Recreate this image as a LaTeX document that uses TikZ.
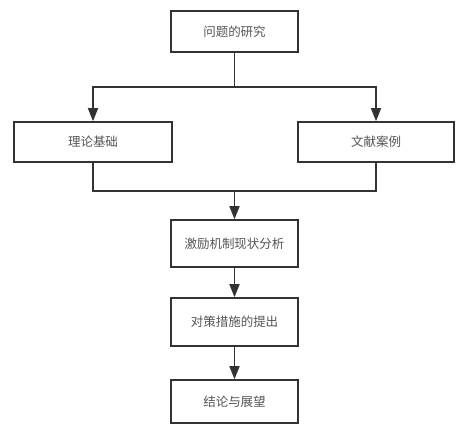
\documentclass[tikz,border=0pt]{standalone}
\usepackage{fontspec}
\newfontfamily\cjk{Noto Sans CJK SC}
\usetikzlibrary{arrows.meta}
\definecolor{linec}{HTML}{333333}
\definecolor{textc}{HTML}{555555}
\begin{document}
\begin{tikzpicture}[x=1pt,y=-1pt,
  box/.style={draw=linec,line width=1.6pt,fill=white,minimum height=#1,inner sep=0pt,outer sep=0pt,
    font=\cjk\fontsize{12.5}{14}\selectfont,text=textc,anchor=north west},
  conn/.style={draw=linec,line width=1.6pt},
  arr/.style={conn,-{Triangle[length=13pt,width=10pt]},shorten >=0.8pt}]
\useasboundingbox (0,0) rectangle (467,431);
\fill[white] (0,0) rectangle (467,431);
\node[box=41pt,minimum width=127pt] (a) at (171,11) {问题的研究};
\node[box=40pt,minimum width=158pt] (b) at (14,122) {理论基础};
\node[box=40pt,minimum width=156pt] (c) at (298,122) {文献案例};
\node[box=47pt,minimum width=127pt] (d) at (171,220) {激励机制现状分析};
\node[box=48pt,minimum width=127pt] (e) at (171,298) {对策措施的提出};
\node[box=43pt,minimum width=127pt] (f) at (171,380) {结论与展望};
\coordinate (s) at (a.south |- 0,87);
\coordinate (m) at (d.north |- 0,191);
\draw[conn] (a.south) -- (s);
\draw[arr] (s) -| (b.north);
\draw[arr] (s) -| (c.north);
\draw[conn] (b.south) |- (m);
\draw[conn] (c.south) |- (m);
\draw[arr] (m) -- (d.north);
\draw[arr] (d.south) -- (e.north);
\draw[arr] (e.south) -- (f.north);
\end{tikzpicture}
\end{document}
